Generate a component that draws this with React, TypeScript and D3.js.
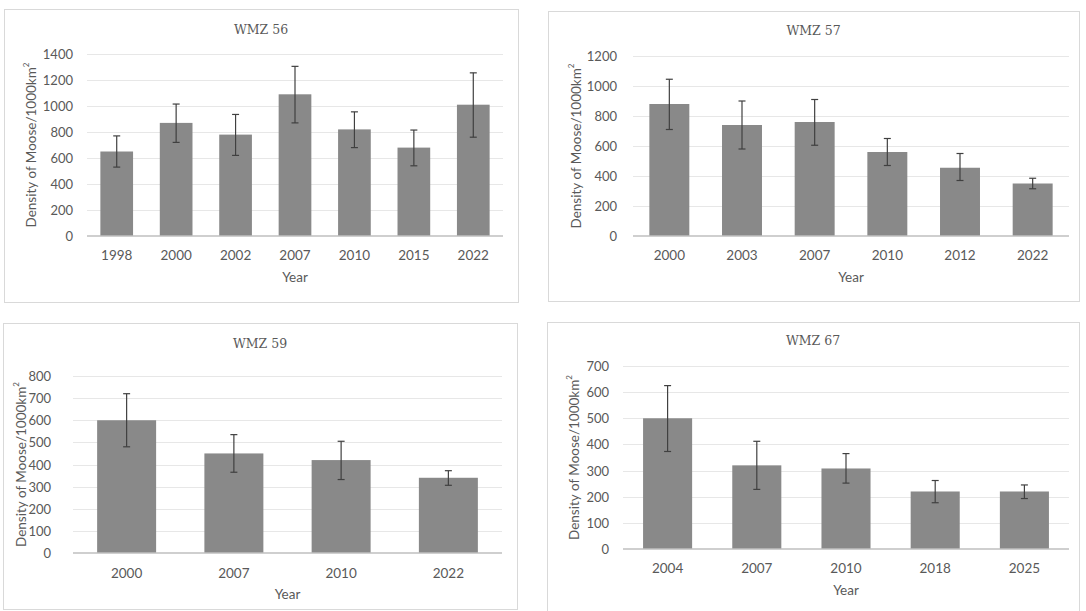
import React from "react";
import * as d3 from "d3";

// WMZ 56
const years56 = ["1998", "2000", "2002", "2007", "2010", "2015", "2022"];
const density56 = [650, 870, 780, 1090, 820, 680, 1010];
const upper56 = [770, 1015, 935, 1305, 955, 815, 1255];
const lower56 = [530, 720, 620, 870, 680, 540, 760];
const ticks56 = [0, 200, 400, 600, 800, 1000, 1200, 1400];

// WMZ 57
const years57 = ["2000", "2003", "2007", "2010", "2012", "2022"];
const density57 = [880, 740, 760, 560, 455, 350];
const upper57 = [1045, 900, 910, 650, 550, 385];
const lower57 = [710, 580, 605, 470, 370, 315];
const ticks57 = [0, 200, 400, 600, 800, 1000, 1200];

// WMZ 59
const years59 = ["2000", "2007", "2010", "2022"];
const density59 = [600, 450, 420, 340];
const upper59 = [720, 535, 505, 372];
const lower59 = [480, 365, 332, 306];
const ticks59 = [0, 100, 200, 300, 400, 500, 600, 700, 800];

// WMZ 67
const years67 = ["2004", "2007", "2010", "2018", "2025"];
const density67 = [500, 320, 308, 220, 220];
const upper67 = [625, 412, 365, 262, 245];
const lower67 = [373, 228, 252, 177, 193];
const ticks67 = [0, 100, 200, 300, 400, 500, 600, 700];

const LABEL_FONT = "Lato, 'Open Sans', sans-serif";
const TITLE_FONT = "'DejaVu Serif', 'Liberation Serif', serif";
const TEXT_COLOR = "#595959";
const BAR_COLOR = "#898989";
const ERR_COLOR = "#404040";

type PanelProps = {
  title: string;
  years: string[];
  values: number[];
  upper: number[];
  lower: number[];
  ticks: number[];
  box: { x: number; y: number; w: number; h: number };
  plot: { x0: number; x1: number; y0: number; y1: number };
  tickRight: number;
  yTitleX: number;
  titleY: number;
  xLabelY: number;
  xTitleY: number;
};

function Panel(p: PanelProps) {
  const x = d3
    .scaleBand<string>()
    .domain(p.years)
    .range([p.plot.x0, p.plot.x1])
    .paddingInner(0.45)
    .paddingOuter(0.225);
  const y = d3
    .scaleLinear()
    .domain([0, p.ticks[p.ticks.length - 1]])
    .range([p.plot.y1, p.plot.y0]);
  const bw = x.bandwidth();
  const cx = (p.box.x + p.box.x + p.box.w) / 2;
  const plotMidX = (p.plot.x0 + p.plot.x1) / 2;
  const plotMidY = (p.plot.y0 + p.plot.y1) / 2;
  const cap = 3.5;

  return (
    <g>
      <rect
        x={p.box.x + 0.5}
        y={p.box.y + 0.5}
        width={p.box.w}
        height={p.box.h}
        fill="#ffffff"
        stroke="#d9d9d9"
        strokeWidth={1}
      />
      <text
        x={cx}
        y={p.titleY}
        textAnchor="middle"
        dominantBaseline="central"
        fontFamily={TITLE_FONT}
        fontSize={12.5}
        fill={TEXT_COLOR}
      >
        {p.title}
      </text>

      {p.ticks.map((t) => (
        <g key={t}>
          {t > 0 && (
            <line
              x1={p.plot.x0}
              x2={p.plot.x1}
              y1={Math.round(y(t)) + 0.5}
              y2={Math.round(y(t)) + 0.5}
              stroke="#e7e7e7"
              strokeWidth={1}
            />
          )}
          <text
            x={p.tickRight}
            y={y(t)}
            textAnchor="end"
            dominantBaseline="central"
            fontFamily={LABEL_FONT}
            fontSize={13}
            fill={TEXT_COLOR}
          >
            {t}
          </text>
        </g>
      ))}

      {p.years.map((yr, i) => (
        <rect
          key={yr}
          x={x(yr)!}
          y={y(p.values[i])}
          width={bw}
          height={y(0) - y(p.values[i])}
          fill={BAR_COLOR}
        />
      ))}

      <line
        x1={p.plot.x0}
        x2={p.plot.x1}
        y1={y(0)}
        y2={y(0)}
        stroke="#bfbfbf"
        strokeWidth={1.5}
      />

      {p.years.map((yr, i) => {
        const mx = x(yr)! + bw / 2;
        return (
          <g key={yr} stroke={ERR_COLOR} strokeWidth={1.2}>
            <line x1={mx} x2={mx} y1={y(p.upper[i])} y2={y(p.lower[i])} />
            <line x1={mx - cap} x2={mx + cap} y1={y(p.upper[i])} y2={y(p.upper[i])} />
            <line x1={mx - cap} x2={mx + cap} y1={y(p.lower[i])} y2={y(p.lower[i])} />
          </g>
        );
      })}

      {p.years.map((yr) => (
        <text
          key={yr}
          x={x(yr)! + bw / 2}
          y={p.xLabelY}
          textAnchor="middle"
          dominantBaseline="central"
          fontFamily={LABEL_FONT}
          fontSize={13.5}
          fill={TEXT_COLOR}
        >
          {yr}
        </text>
      ))}

      <text
        x={plotMidX}
        y={p.xTitleY}
        textAnchor="middle"
        dominantBaseline="central"
        fontFamily={LABEL_FONT}
        fontSize={13.5}
        fill={TEXT_COLOR}
      >
        Year
      </text>

      <text
        transform={`translate(${p.yTitleX},${plotMidY}) rotate(-90)`}
        textAnchor="middle"
        dominantBaseline="central"
        fontFamily={LABEL_FONT}
        fontSize={13.5}
        fill={TEXT_COLOR}
      >
        Density of Moose/1000km
        <tspan fontSize={8} dy={-5}>
          2
        </tspan>
      </text>
    </g>
  );
}

export default function App() {
  return (
    <svg
      width={1086}
      height={611}
      style={{ position: "absolute", left: 0, top: 0, background: "#ffffff" }}
    >
      <Panel
        title="WMZ 56"
        years={years56}
        values={density56}
        upper={upper56}
        lower={lower56}
        ticks={ticks56}
        box={{ x: 4, y: 9, w: 514, h: 293 }}
        plot={{ x0: 87, x1: 503, y0: 54, y1: 236 }}
        tickRight={73}
        yTitleX={31}
        titleY={29}
        xLabelY={255}
        xTitleY={277}
      />
      <Panel
        title="WMZ 57"
        years={years57}
        values={density57}
        upper={upper57}
        lower={lower57}
        ticks={ticks57}
        box={{ x: 548, y: 11, w: 531, h: 290 }}
        plot={{ x0: 633, x1: 1069, y0: 56, y1: 236 }}
        tickRight={617}
        yTitleX={576}
        titleY={30}
        xLabelY={255}
        xTitleY={277}
      />
      <Panel
        title="WMZ 59"
        years={years59}
        values={density59}
        upper={upper59}
        lower={lower59}
        ticks={ticks59}
        box={{ x: 3, y: 323, w: 514, h: 286 }}
        plot={{ x0: 73, x1: 502, y0: 376, y1: 553 }}
        tickRight={51}
        yTitleX={21}
        titleY={343}
        xLabelY={573}
        xTitleY={594}
      />
      <Panel
        title="WMZ 67"
        years={years67}
        values={density67}
        upper={upper67}
        lower={lower67}
        ticks={ticks67}
        box={{ x: 547, y: 322, w: 532, h: 300 }}
        plot={{ x0: 623, x1: 1069, y0: 366, y1: 549 }}
        tickRight={609}
        yTitleX={574}
        titleY={340}
        xLabelY={568}
        xTitleY={590}
      />
    </svg>
  );
}
